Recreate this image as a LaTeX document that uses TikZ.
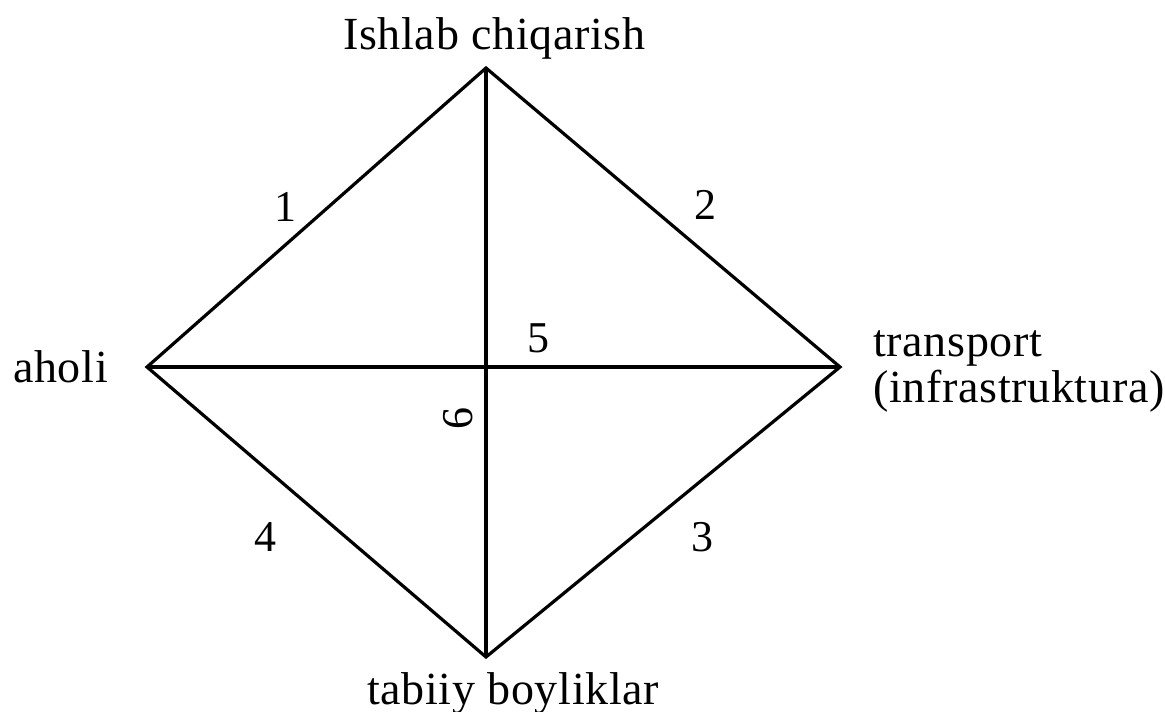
\documentclass[tikz,border=0pt]{standalone}
\usepackage{fontspec}
\setmainfont[LetterSpace=1.5]{Liberation Serif}
\begin{document}
\begin{tikzpicture}[x=1pt,y=-1pt,
  edge/.style={line width=3.2pt,line join=miter,black},
  lbl/.style={inner sep=0pt,font=\fontsize{46}{50}\selectfont},
  num/.style={inner sep=0pt,font=\fontsize{44}{48}\selectfont}]
\useasboundingbox (0,0) rectangle (1165,712);
\coordinate (T) at (486,68);
\coordinate (L) at (147,367);
\coordinate (R) at (840,367);
\coordinate (B) at (486,657);
\coordinate (C) at (486,367);
\draw[edge] (L) -- (T) -- (R) -- (B) -- cycle;
\draw[edge] (T) -- (B);
\draw[edge] (L) -- (R);
\node[lbl,anchor=base west] (ishlab) at (343,49) {Ishlab chiqarish};
\node[lbl,anchor=base west] (aholi) at (13,382) {aholi};
\node[lbl,anchor=base west] (transport) at (873,356) {transport};
\node[lbl,anchor=base west] (infra) at (873,402) {(infrastruktura)};
\node[lbl,anchor=base west] (tabiiy) at (367,704) {tabiiy boyliklar};
\node[num] (n1) at (285,207) {1};
\node[num] (n2) at (705,205) {2};
\node[num] (n3) at (702,537) {3};
\node[num] (n4) at (265,537) {4};
\node[num] (n5) at (538,338) {5};
\node[num,rotate=90] (n6) at (458,418) {6};
\end{tikzpicture}
\end{document}
